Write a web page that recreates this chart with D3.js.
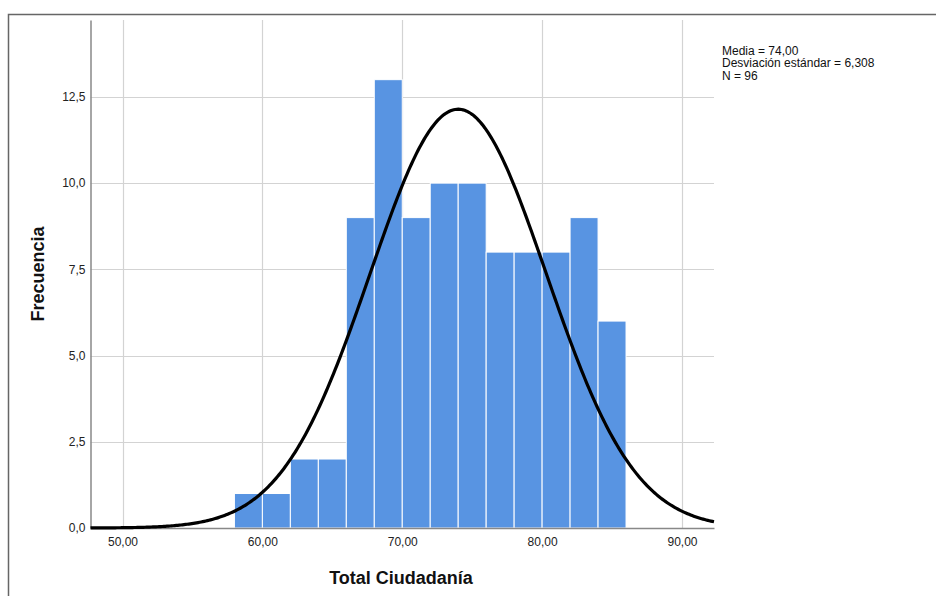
<!DOCTYPE html>
<html><head><meta charset="utf-8">
<script src="https://cdn.jsdelivr.net/npm/d3@7"></script>
<style>body{margin:0;background:#fff}svg{display:block;font-family:"Liberation Sans",Arial,sans-serif}</style>
</head><body>
<script>
const binStarts = [58,60,62,64,66,68,70,72,74,76,78,80,82,84];
const binWidth = 2;
const counts = [1,1,2,2,9,13,9,10,10,8,8,8,9,6];
const xTicks = [50,60,70,80,90];
const yTicks = [0,2.5,5,7.5,10,12.5];
const mean = 74.00, sd = 6.308, N = 96;
const legendLines = ["Media = 74,00","Desviación estándar = 6,308","N = 96"];

const W=936,H=596;
const svg=d3.select("body").append("svg").attr("width",W).attr("height",H);
// frame
svg.append("path").attr("d","M8.5,596 V14.5 H936").attr("fill","none").attr("stroke","#666").attr("stroke-width",1.5);

const L=90.5,R=714,T=20,B=528;
const x=d3.scaleLinear().domain([47.71,92.29]).range([L,R]);
const y=d3.scaleLinear().domain([0,14.73]).range([B,T]);
const fmt=v=>d3.format(".1f")(v).replace(".",",");
const fmtx=v=>d3.format(".2f")(v).replace(".",",");

// grid
svg.append("g").selectAll("line").data(xTicks).join("line")
 .attr("x1",d=>Math.round(x(d))+0.5).attr("x2",d=>Math.round(x(d))+0.5).attr("y1",T).attr("y2",B)
 .attr("stroke","#d3d3d3").attr("stroke-width",1.2);
svg.append("g").selectAll("line").data(yTicks.filter(d=>d>0)).join("line")
 .attr("x1",L).attr("x2",R).attr("y1",d=>Math.round(y(d))+0.5).attr("y2",d=>Math.round(y(d))+0.5)
 .attr("stroke","#d3d3d3").attr("stroke-width",1.2);

// bars
svg.append("g").selectAll("rect").data(binStarts).join("rect")
 .attr("x",(d,i)=>x(d)).attr("width",(d,i)=>x(d+binWidth)-x(d))
 .attr("y",(d,i)=>y(counts[i])).attr("height",(d,i)=>y(0)-y(counts[i]))
 .attr("fill","#5894e2").attr("stroke","#fff").attr("stroke-width",1);

// axes
const xAxis=d3.axisBottom(x).tickValues(xTicks).tickFormat(fmtx).tickSize(0).tickPadding(9);
const gx=svg.append("g").attr("transform",`translate(0,${B})`).call(xAxis);
gx.select(".domain").attr("stroke","#888").attr("stroke-width",1.5);
gx.selectAll("text").attr("font-size",12).attr("fill","#222").attr("font-family","Liberation Sans, Arial, sans-serif");
const yAxis=d3.axisLeft(y).tickValues(yTicks).tickFormat(fmt).tickSize(0).tickPadding(5);
const gy=svg.append("g").attr("transform",`translate(${L},0)`).call(yAxis);
gy.select(".domain").attr("stroke","#888").attr("stroke-width",1.5);
gy.selectAll("text").attr("font-size",12).attr("fill","#222").attr("font-family","Liberation Sans, Arial, sans-serif");

// normal curve
const xs=d3.range(0,401).map(i=>47.71+(92.29-47.71)*i/400);
const dens=v=>N*binWidth/(sd*Math.sqrt(2*Math.PI))*Math.exp(-0.5*((v-mean)/sd)**2);
svg.append("path").datum(xs).attr("d",d3.line().x(d=>x(d)).y(d=>y(dens(d))))
 .attr("fill","none").attr("stroke","#000").attr("stroke-width",3.2);

// labels
svg.append("text").attr("x",401).attr("y",584).attr("text-anchor","middle").attr("font-size",18).attr("font-weight","bold").attr("fill","#111").text("Total Ciudadanía");
svg.append("text").attr("transform","translate(44,274) rotate(-90)").attr("text-anchor","middle").attr("font-size",18).attr("font-weight","bold").attr("fill","#111").text("Frecuencia");

svg.append("g").selectAll("text").data(legendLines).join("text")
 .attr("x",722).attr("y",(d,i)=>54.5+i*12.5).attr("font-size",12).attr("fill","#111").text(d=>d);
</script>
</body></html>
